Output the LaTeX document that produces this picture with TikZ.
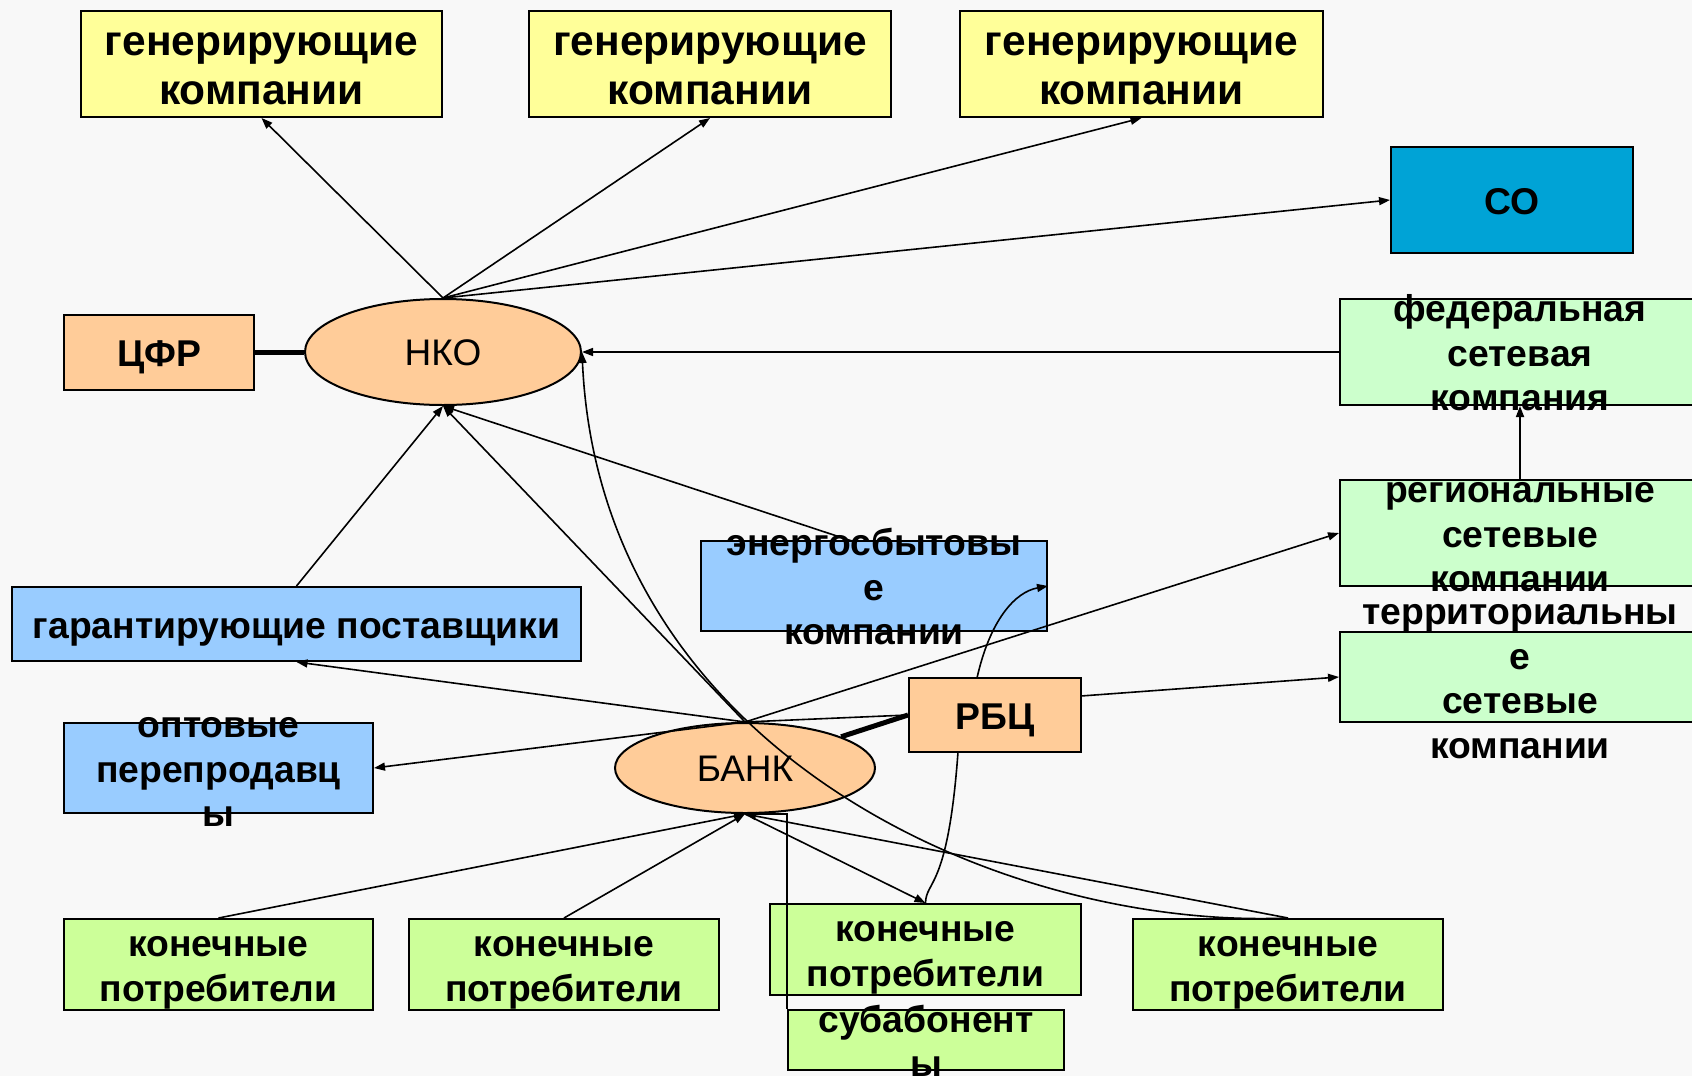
\documentclass[tikz,border=0pt]{standalone}
\usepackage{fontspec}
\setmainfont{Liberation Sans}
\usetikzlibrary{arrows.meta,shapes.geometric,calc}
\definecolor{bg}{HTML}{F8F8F8}
\definecolor{yel}{HTML}{FFFF99}
\definecolor{peach}{HTML}{FFCC99}
\definecolor{cyanbox}{HTML}{00A3D6}
\definecolor{mint}{HTML}{CCFFCC}
\definecolor{lime}{HTML}{CCFF99}
\definecolor{skyb}{HTML}{99CCFF}
\newcommand{\ms}{\strut}
\begin{document}
\begin{tikzpicture}[x=1pt,y=-1pt,
  box/.style={draw=black, line width=2pt, rectangle, inner sep=0pt},
  oval/.style={draw=black, line width=2pt, ellipse, inner sep=0pt, fill=peach},
  lbl/.style={align=center, inner sep=0pt, yshift=-5.5pt, font=\bfseries\fontsize{37.3}{44.5}\selectfont},
  biglbl/.style={align=center, inner sep=0pt, yshift=-6pt, font=\bfseries\fontsize{42.5}{49.6}\selectfont},
  olbl/.style={inner sep=0pt, yshift=-5pt, font=\fontsize{37}{44.5}\selectfont},
  conn/.style={line width=1.6pt},
  arr/.style={conn, -{Triangle[length=11pt,width=8pt]}},
  heavy/.style={line width=5pt}]
\useasboundingbox (0,0) rectangle (1692,1076);
\fill[bg] (0,0) rectangle (1692,1076);

% boxes
\node[box, fill=yel, minimum width=361pt, minimum height=106pt] (gen1) at (261.5,64) {};
\node[box, fill=yel, minimum width=362pt, minimum height=106pt] (gen2) at (710,64) {};
\node[box, fill=yel, minimum width=363pt, minimum height=106pt] (gen3) at (1141.5,64) {};
\node[box, fill=cyanbox, minimum width=242pt, minimum height=106pt] (co) at (1512,200) {};
\node[box, fill=peach, minimum width=190pt, minimum height=75pt] (cfr) at (159,352) {};
\node[oval, minimum width=276pt, minimum height=106pt] (nko) at (443,352) {};
\node[box, fill=mint, minimum width=360pt, minimum height=106pt] (fsk) at (1520,352) {};
\node[box, fill=mint, minimum width=360pt, minimum height=106pt] (rsk) at (1520,533) {};
\node[box, fill=mint, minimum width=360pt, minimum height=90pt] (tsk) at (1520,677) {};
\node[box, fill=skyb, minimum width=346pt, minimum height=90pt] (energo) at (874,586) {};
\node[box, fill=skyb, minimum width=569pt, minimum height=74pt] (garant) at (296.5,624) {};
\node[box, fill=skyb, minimum width=309pt, minimum height=90pt] (opt) at (218.5,768) {};
\node[oval, minimum width=260pt, minimum height=90pt] (bank) at (745,768) {};
\node[box, fill=peach, minimum width=172pt, minimum height=74pt] (rbc) at (995,715) {};
\node[box, fill=lime, minimum width=309pt, minimum height=91pt] (kp1) at (218.5,964.5) {};
\node[box, fill=lime, minimum width=310pt, minimum height=91pt] (kp2) at (564,964.5) {};
\node[box, fill=lime, minimum width=311pt, minimum height=91pt] (kp3) at (925.5,949.5) {};
\node[box, fill=lime, minimum width=310pt, minimum height=91pt] (kp4) at (1288,964.5) {};
\node[box, fill=lime, minimum width=276pt, minimum height=60pt] (sub) at (926,1040) {};

% labels
\node[biglbl] (gen1t) at (gen1) {\ms генерирующие\\\ms компании};
\node[biglbl] (gen2t) at (gen2) {\ms генерирующие\\\ms компании};
\node[biglbl] (gen3t) at (gen3) {\ms генерирующие\\\ms компании};
\node[lbl] (cot) at (co) {\ms СО};
\node[lbl] (cfrt) at (cfr) {\ms ЦФР};
\node[olbl] (nkot) at (nko) {\ms НКО};
\node[lbl] (fskt) at (fsk) {\ms федеральная\\\ms сетевая\\\ms компания};
\node[lbl] (rskt) at (rsk) {\ms региональные\\\ms сетевые\\\ms компании};
\node[lbl] (tskt) at (tsk) {\ms территориальны\\\ms е\\\ms сетевые\\\ms компании};
\node[lbl] (energot) at (energo) {\ms энергосбытовы\\\ms е\\\ms компании};
\node[lbl] (garantt) at (garant) {\ms гарантирующие поставщики};
\node[lbl] (optt) at (opt) {\ms оптовые\\\ms перепродавц\\\ms ы};
\node[olbl] (bankt) at (bank) {\ms БАНК};
\node[lbl] (rbct) at (rbc) {\ms РБЦ};
\node[lbl] (kp1t) at (kp1) {\ms конечные\\\ms потребители};
\node[lbl] (kp2t) at (kp2) {\ms конечные\\\ms потребители};
\node[lbl] (kp3t) at (kp3) {\ms конечные\\\ms потребители};
\node[lbl] (kp4t) at (kp4) {\ms конечные\\\ms потребители};
\node[lbl] (subt) at (sub) {\ms субабонент\\\ms ы};

% helper coordinates
\coordinate (energoTop) at (852,541);
\coordinate (rbcR) at (1081,696);
\coordinate (rbcTop) at (977,678);
\coordinate (rbcBot) at (958,752);

% connectors
\draw[heavy] (cfr) -- (nko);
\draw[heavy] (bank) -- (rbc.west);
\draw[arr] (nko.north) -- (gen1.south);
\draw[arr] (nko.north) -- (gen2.south);
\draw[arr] (nko.north) -- (gen3.south);
\draw[arr] (nko.north) -- (co.west);
\draw[arr] (fsk.west) -- (nko.east);
\draw[arr] (rsk.north) -- (fsk.south);
\draw[arr] (garant.north) -- (nko.south);
\draw[arr] (bank.north) -- (nko.south);
\draw[arr] (energoTop) -- (nko.south);
\draw[arr] (kp4.north) .. controls (1000,930) and (600,750) .. (nko.east);
\draw[arr] (bank.north) -- (rsk.west);
\draw[arr] (rbcR) -- (tsk.west);
\draw[arr] (bank.north) -- (garant.south);
\draw[conn] (rbc.west) -- (bank.north);
\draw[arr] (bank.north) -- (opt.east);
\draw[arr] (rbcTop) .. controls (990,620) and (1015,592) .. (energo.east);
\draw[conn] (rbcBot) .. controls (948,890) and (926,880) .. (kp3.north);
\draw[arr] (bank.south) -- (kp3.north);
\draw[arr] (kp1.north) -- (bank.south);
\draw[arr] (kp2.north) -- (bank.south);
\draw[arr] (kp4.north) -- (bank.south);
\draw[conn] (bank.south) -| (sub.north west);
\end{tikzpicture}
\end{document}
